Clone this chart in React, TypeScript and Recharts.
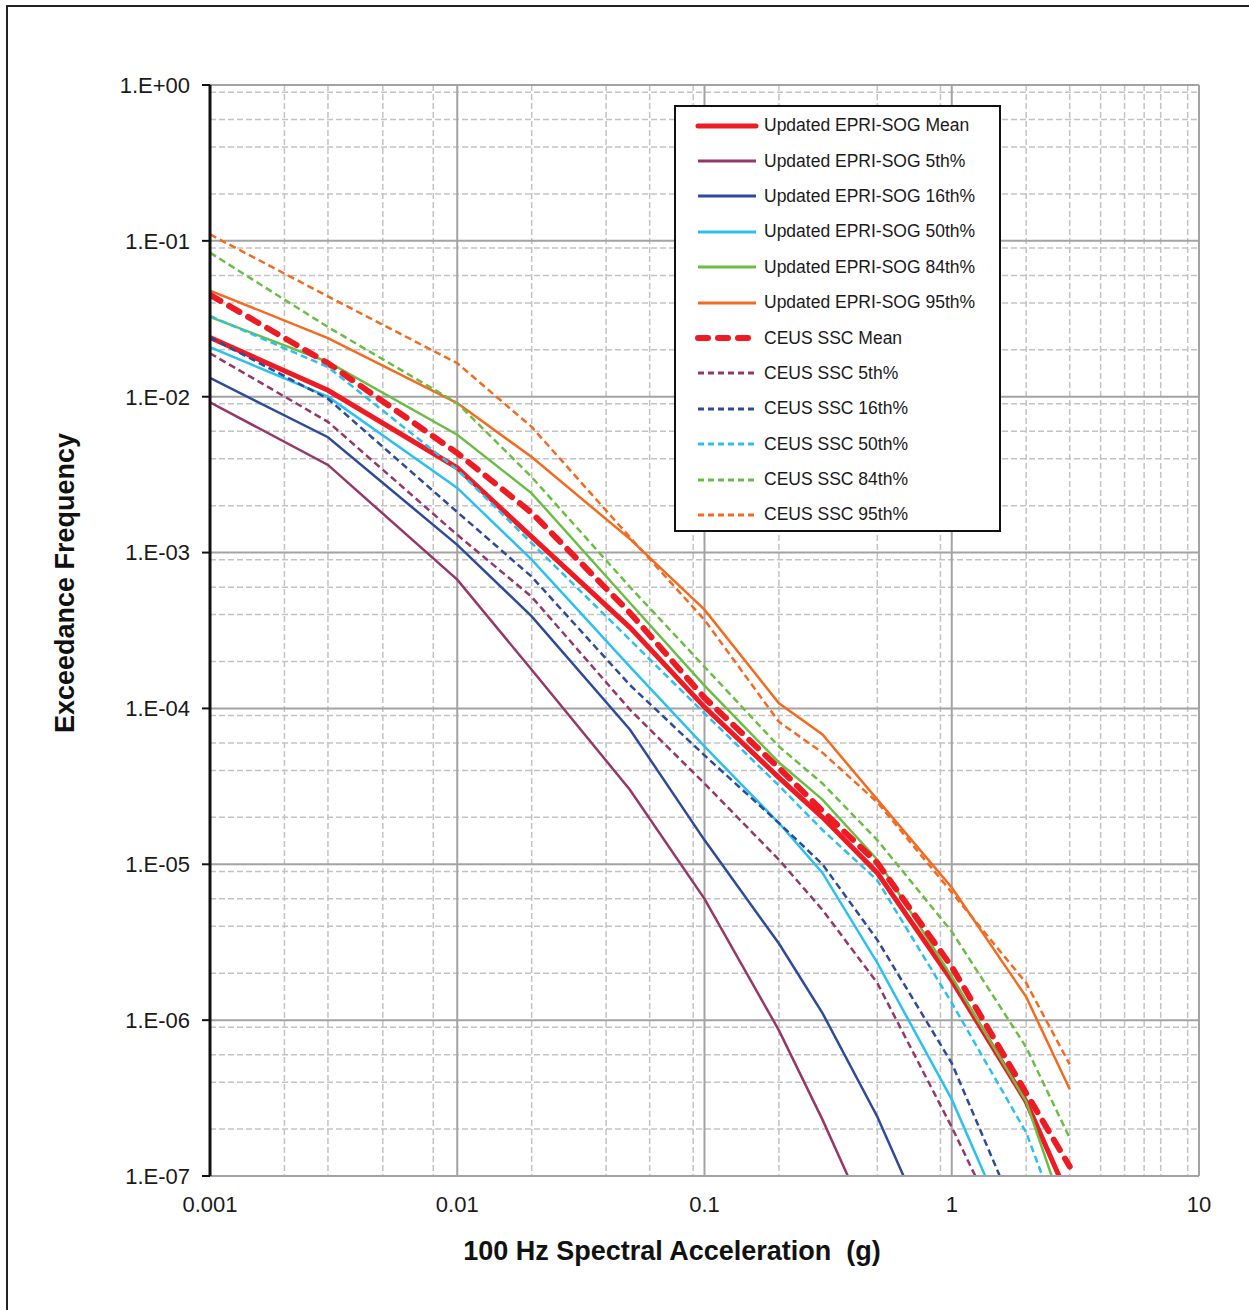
import React from 'react';
import { LineChart, Line, XAxis, YAxis, CartesianGrid, Legend } from 'recharts';

// spectral acceleration (g)
const accel = [0.001, 0.003, 0.01, 0.02, 0.05, 0.1, 0.2, 0.3, 0.5, 1, 2, 3];

const epriMean = [2.4e-2, 1.1e-2, 3.5e-3, 1.26e-3, 3.3e-4, 1.02e-4, 3.6e-5, 2.0e-5, 8.8e-6, 1.8e-6, 3.0e-7, 7e-8];
const epri5 = [9.2e-3, 3.65e-3, 6.7e-4, 1.77e-4, 3.0e-5, 6e-6, 8.6e-7, 2.3e-7, 3.8e-8, null, null, null];
const epri16 = [1.32e-2, 5.5e-3, 1.12e-3, 3.9e-4, 7.3e-5, 1.43e-5, 3.1e-6, 1.11e-6, 2.4e-7, 2e-8, null, null];
const epri50 = [2.08e-2, 1.0e-2, 2.6e-3, 9e-4, 1.85e-4, 5.7e-5, 1.84e-5, 8.8e-6, 2.33e-6, 3.1e-7, 2.5e-8, null];
const epri84 = [3.25e-2, 1.67e-2, 5.7e-3, 2.4e-3, 4.75e-4, 1.4e-4, 4.5e-5, 2.6e-5, 1.07e-5, 1.9e-6, 3.0e-7, 4.6e-8];
const epri95 = [4.8e-2, 2.38e-2, 9.1e-3, 4.1e-3, 1.22e-3, 4.3e-4, 1.08e-4, 6.8e-5, 2.6e-5, 7.1e-6, 1.41e-6, 3.6e-7];

const ceusMean = [4.5e-2, 1.64e-2, 4.35e-3, 1.8e-3, 4.1e-4, 1.17e-4, 4.15e-5, 2.2e-5, 1.02e-5, 2.2e-6, 3.4e-7, 1.15e-7];
const ceus5 = [1.9e-2, 6.9e-3, 1.3e-3, 5.2e-4, 9.8e-5, 3.3e-5, 1.07e-5, 5.1e-6, 1.73e-6, 2.06e-7, 2.1e-8, null];
const ceus16 = [2.4e-2, 9.7e-3, 1.82e-3, 7e-4, 1.41e-4, 5.0e-5, 1.84e-5, 1.0e-5, 3.27e-6, 5.3e-7, 4e-8, null];
const ceus50 = [3.3e-2, 1.55e-2, 3.4e-3, 1.15e-3, 2.75e-4, 9.3e-5, 3.2e-5, 1.66e-5, 7.9e-6, 1.29e-6, 1.9e-7, 3.4e-8];
const ceus84 = [8.4e-2, 2.8e-2, 9.1e-3, 3.05e-3, 6e-4, 1.85e-4, 5.7e-5, 3.3e-5, 1.43e-5, 3.7e-6, 6.7e-7, 1.75e-7];
const ceus95 = [1.1e-1, 4.4e-2, 1.64e-2, 6.4e-3, 1.25e-3, 3.7e-4, 8.2e-5, 5.2e-5, 2.5e-5, 6.6e-6, 1.73e-6, 5.2e-7];

const xTicks = [0.001, 0.01, 0.1, 1, 10];
const yTicks = [1e-7, 1e-6, 1e-5, 1e-4, 1e-3, 1e-2, 1e-1, 1];

const RED = '#ed1c24';
const PURPLE = '#953769';
const BLUE = '#2e4b9b';
const CYAN = '#2cc0ef';
const GREEN = '#6cbd45';
const ORANGE = '#f26b21';

const series = [
  { key: 'epriMean', name: 'Updated EPRI-SOG Mean', values: epriMean, color: RED, width: 5, dash: undefined },
  { key: 'epri5', name: 'Updated EPRI-SOG 5th%', values: epri5, color: PURPLE, width: 2.5, dash: undefined },
  { key: 'epri16', name: 'Updated EPRI-SOG 16th%', values: epri16, color: BLUE, width: 2.5, dash: undefined },
  { key: 'epri50', name: 'Updated EPRI-SOG 50th%', values: epri50, color: CYAN, width: 2.5, dash: undefined },
  { key: 'epri84', name: 'Updated EPRI-SOG 84th%', values: epri84, color: GREEN, width: 2.5, dash: undefined },
  { key: 'epri95', name: 'Updated EPRI-SOG 95th%', values: epri95, color: ORANGE, width: 2.5, dash: undefined },
  { key: 'ceusMean', name: 'CEUS SSC Mean', values: ceusMean, color: RED, width: 6, dash: '12 10' },
  { key: 'ceus5', name: 'CEUS SSC 5th%', values: ceus5, color: PURPLE, width: 2.5, dash: '7 4' },
  { key: 'ceus16', name: 'CEUS SSC 16th%', values: ceus16, color: BLUE, width: 2.5, dash: '7 4' },
  { key: 'ceus50', name: 'CEUS SSC 50th%', values: ceus50, color: CYAN, width: 2.5, dash: '7 4' },
  { key: 'ceus84', name: 'CEUS SSC 84th%', values: ceus84, color: GREEN, width: 2.5, dash: '7 4' },
  { key: 'ceus95', name: 'CEUS SSC 95th%', values: ceus95, color: ORANGE, width: 2.5, dash: '7 4' },
];

const data = accel.map((x, i) => {
  const row: Record<string, number | null> = { x };
  series.forEach(s => { row[s.key] = s.values[i]; });
  return row;
});

// minor grid: 2..9 inside each decade
const mults = [2, 3, 4, 5, 6, 7, 8, 9];
const minorX = [0.001, 0.01, 0.1, 1].flatMap(d => mults.map(m => d * m));
const minorY = [1e-7, 1e-6, 1e-5, 1e-4, 1e-3, 1e-2, 1e-1].flatMap(d => mults.map(m => d * m));

const fmtY = (v: number) => {
  const e = Math.round(Math.log10(v));
  return `1.E${e < 0 ? '-' : '+'}${String(Math.abs(e)).padStart(2, '0')}`;
};

const FONT = '"Liberation Sans", Arial, sans-serif';

const renderLegend = () => (
  <div style={{ border: '2px solid #111', background: '#fff', padding: '1px 0 0 0', boxSizing: 'border-box', width: 327, height: 427 }}>
    {series.map(s => (
      <div key={s.key} style={{ display: 'flex', alignItems: 'center', height: 35.4, fontFamily: FONT, fontSize: 17.5, color: '#1a1a1a' }}>
        <svg width={64} height={12} style={{ marginLeft: 19, marginRight: 5 }}>
          <line x1={3} y1={6} x2={61} y2={6} stroke={s.color} strokeWidth={s.width === 5 ? 5 : s.width === 6 ? 6 : 3}
            strokeDasharray={s.key === 'ceusMean' ? '10 10' : s.dash ? '6 4' : undefined}
            strokeLinecap={s.key === 'ceusMean' || s.key === 'epriMean' ? 'round' : 'butt'} />
        </svg>
        <span>{s.name}</span>
      </div>
    ))}
  </div>
);

export default function App() {
  return (
    <div style={{ position: 'absolute', left: 0, top: 0, width: 1249, height: 1310, overflow: 'hidden', background: '#fff' }}>
      {/* outer frame of the figure */}
      <div style={{ position: 'absolute', left: 6, top: 5, width: 1260, height: 1320, border: '2px solid #222', boxSizing: 'border-box' }} />
      <div style={{ position: 'absolute', left: 0, top: 0 }}>
        <LineChart width={1249} height={1310} data={data} margin={{ top: 85, right: 50, bottom: 34, left: 90 }}>
          <CartesianGrid verticalValues={minorX} horizontalValues={minorY} stroke="#c3c3c3" strokeWidth={1.5} strokeDasharray="6 3" />
          <CartesianGrid verticalValues={xTicks} horizontalValues={yTicks} stroke="#a3a3a3" strokeWidth={2} />
          <XAxis dataKey="x" type="number" scale="log" domain={[0.001, 10]} ticks={xTicks} allowDataOverflow
            tickFormatter={(v: number) => String(v)} axisLine={{ stroke: '#a3a3a3', strokeWidth: 2 }} tickLine={false}
            tickSize={0} tickMargin={20} height={100}
            tick={{ fontFamily: FONT, fontSize: 22, fill: '#1a1a1a' }} />
          <YAxis type="number" scale="log" domain={[1e-7, 1]} ticks={yTicks} allowDataOverflow tickFormatter={fmtY}
            width={120} axisLine={{ stroke: '#111', strokeWidth: 3 }} tickLine={{ stroke: '#111', strokeWidth: 2 }}
            tickSize={8} tickMargin={12} tick={{ fontFamily: FONT, fontSize: 22, fill: '#1a1a1a' }} />
          <Legend layout="vertical" align="center" verticalAlign="middle" content={renderLegend}
            wrapperStyle={{ left: 674, top: 105, width: 327, height: 427 }} />
          {series.map(s => (
            <Line key={s.key} type="linear" dataKey={s.key} name={s.name} stroke={s.color} strokeWidth={s.width}
              strokeDasharray={s.dash} strokeLinecap={s.key === 'ceusMean' ? 'round' : 'butt'}
              dot={false} activeDot={false} connectNulls={false} isAnimationActive={false} />
          ))}
        </LineChart>
      </div>
      <div style={{ position: 'absolute', left: 0, width: 1344, top: 1236, textAlign: 'center', fontFamily: FONT, fontWeight: 'bold', fontSize: 27, color: '#111' }}>
        100 Hz Spectral Acceleration&nbsp;&nbsp;(g)
      </div>
      <div style={{ position: 'absolute', left: 65, top: 583, transform: 'translate(-50%, -50%) rotate(-90deg)', whiteSpace: 'nowrap', fontFamily: FONT, fontWeight: 'bold', fontSize: 27, color: '#111' }}>
        Exceedance Frequency
      </div>
    </div>
  );
}
